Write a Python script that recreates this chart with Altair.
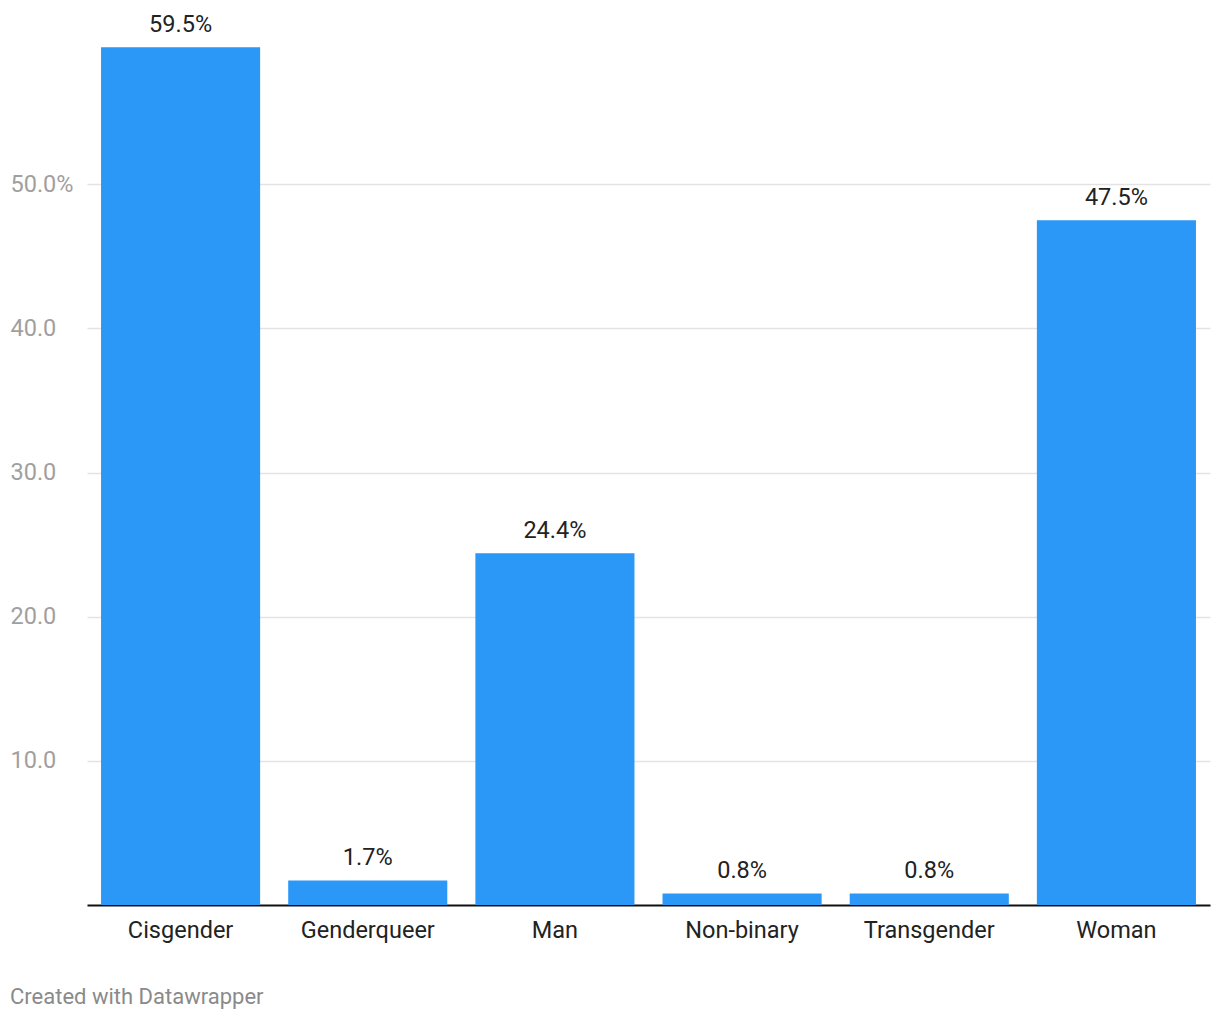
import altair as alt
import pandas as pd

categories = ["Cisgender", "Genderqueer", "Man", "Non-binary", "Transgender", "Woman"]
values = [59.5, 1.7, 24.4, 0.8, 0.8, 47.5]
tick_values = [10, 20, 30, 40, 50]
credit = "Created with Datawrapper"

df = pd.DataFrame({"cat": categories, "val": values})
df["label"] = [f"{v:.1f}%" for v in values]

FONT = "Roboto"
FS = 23.5

x = alt.X("cat:N", sort=categories, title=None,
          scale=alt.Scale(paddingInner=0.15, paddingOuter=0.075),
          axis=alt.Axis(labelAngle=0, labelFontSize=FS, labelColor="#222222",
                        labelFont=FONT, labelPadding=13, ticks=False,
                        domainColor="#111111", domainWidth=2, grid=False))
y = alt.Y("val:Q", title=None,
          scale=alt.Scale(domain=[0, 60], nice=False),
          axis=alt.Axis(values=tick_values, labelAlign="left", labelPadding=77,
                        labelBaseline="middle",
                        labelExpr="datum.value == 50 ? '50.0%' : format(datum.value, '.1f')",
                        labelFontSize=FS, labelColor="#a0a0a0", labelFont=FONT,
                        ticks=False, domain=False, gridColor="#e3e3e3", gridWidth=1.5))

bars = alt.Chart(df).mark_bar(color="#2b97f6").encode(x=x, y=y)
labels = alt.Chart(df).mark_text(fontSize=FS, font=FONT, color="#222222",
                                 baseline="alphabetic", dy=-15).encode(
    x=alt.X("cat:N", sort=categories), y="val:Q", text="label:N")
credit_df = pd.DataFrame({"t": [credit]})
credit_mark = alt.Chart(credit_df).mark_text(fontSize=22, font=FONT, color="#8a8a8a",
                                             align="left", baseline="middle").encode(
    x=alt.value(-77), y=alt.value(957), text="t:N")

chart = alt.layer(bars, labels, credit_mark).properties(
    width=1123, height=865,
    padding={"left": 87, "top": 40, "right": 10, "bottom": 115},
    autosize=alt.AutoSizeParams(type="none"),
    background="white",
).configure_view(stroke=None)

chart.save("out.html", embed_options={"renderer": "svg", "actions": False})
